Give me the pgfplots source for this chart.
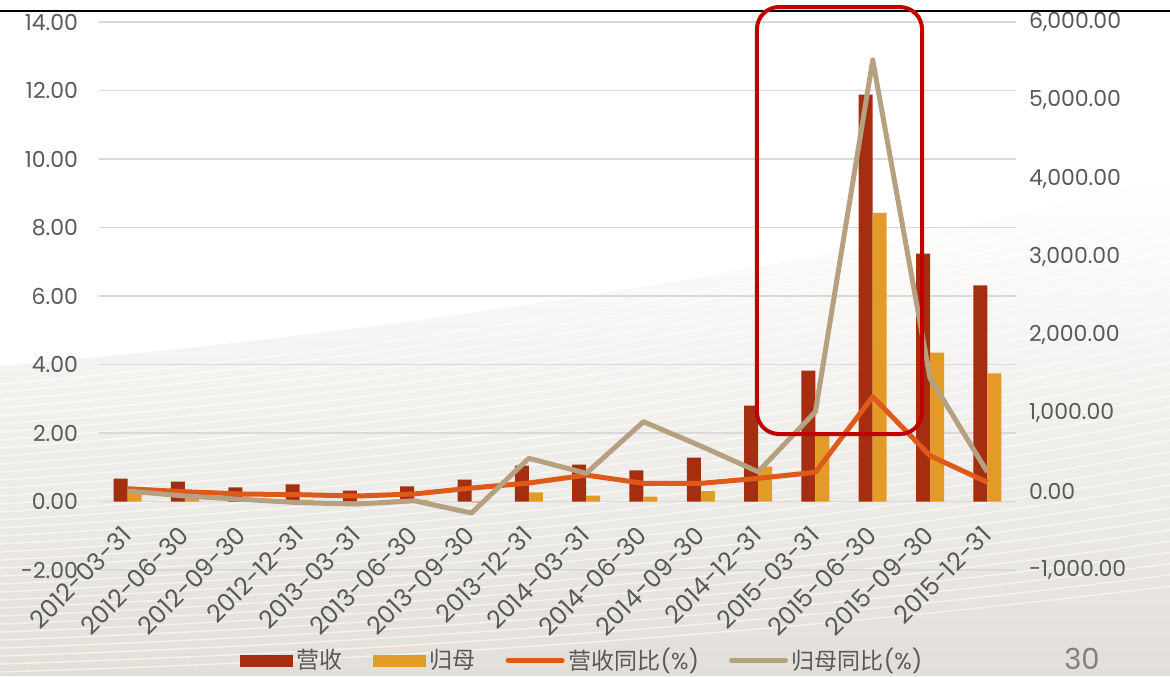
\documentclass[border=0pt]{standalone}
\usepackage{pgfplots}
\pgfplotsset{compat=1.18}
\usepackage{fontspec}
\setmainfont{Poppins}
\newfontfamily\cjk{Noto Sans CJK SC}

\definecolor{revc}{RGB}{166,46,16}
\definecolor{netc}{RGB}{227,155,40}
\definecolor{revyoy}{RGB}{221,90,25}
\definecolor{netyoy}{RGB}{181,160,128}
\definecolor{boxred}{RGB}{192,0,0}
\definecolor{txt}{RGB}{89,89,89}
\definecolor{gridc}{RGB}{217,217,217}
\definecolor{bgc}{RGB}{226,223,217}

\begin{document}
\begin{tikzpicture}[x=1pt,y=1pt]
\useasboundingbox (0,0) rectangle (585,338);
% slide background: white with a silver swoosh in the lower part
\fill[white] (0,0) rectangle (585,338);
\shade[top color=white, bottom color=bgc]
  (0,0) -- (0,155) .. controls (200,172) and (420,205) .. (585,250) -- (585,0) -- cycle;
\foreach \k in {0,...,36} {
  \draw[white, opacity=0.6, line width=0.7pt]
    (0,{2+4*\k}) .. controls (200,{8+4.3*\k}) and (400,{22+4.8*\k}) .. (585,{45+5.6*\k});
}
\draw[black, line width=1pt] (0,332.5) -- (585,332.5);

% bars: revenue and net profit attributable to parent (left axis)
\begin{axis}[
  at={(49.5pt,53pt)}, anchor=south west,
  scale only axis, width=458.5pt, height=274pt,
  xmin=-0.5, xmax=15.5, ymin=-2, ymax=14,
  ytick={-2,0,...,14},
  xtick={0,...,15},
  xticklabels={2012-03-31,2012-06-30,2012-09-30,2012-12-31,2013-03-31,2013-06-30,2013-09-30,2013-12-31,2014-03-31,2014-06-30,2014-09-30,2014-12-31,2015-03-31,2015-06-30,2015-09-30,2015-12-31},
  ybar=0pt, bar width=7pt,
  axis line style={draw=none},
  major tick length=0pt,
  ymajorgrids, grid style={gridc, line width=0.75pt},
  yticklabel style={font=\fontsize{11}{11}\selectfont, text=txt,
    /pgf/number format/fixed, /pgf/number format/fixed zerofill,
    /pgf/number format/precision=2, /pgf/number format/assume math mode=true},
  xticklabel style={font=\fontsize{12.3}{12.3}\selectfont, text=txt, rotate=45, anchor=east, inner sep=0.5pt},
  xticklabel shift=-20pt,
  yticklabel shift=7pt,
]
\addplot[fill=revc, draw=none] coordinates {
  (0,0.67) (1,0.58) (2,0.41) (3,0.50) (4,0.32) (5,0.44) (6,0.64) (7,1.05)
  (8,1.08) (9,0.91) (10,1.28) (11,2.80) (12,3.82) (13,11.88) (14,7.24) (15,6.31)};
\addplot[fill=netc, draw=none] coordinates {
  (0,0.30) (1,0.10) (2,0.05) (3,0.05) (4,0.02) (5,0.05) (6,-0.03) (7,0.27)
  (8,0.17) (9,0.14) (10,0.30) (11,1.02) (12,1.93) (13,8.43) (14,4.35) (15,3.74)};
\end{axis}

% year-on-year growth lines (right axis)
\begin{axis}[
  at={(49.5pt,53pt)}, anchor=south west,
  scale only axis, width=458.5pt, height=274pt,
  xmin=-0.5, xmax=15.5, ymin=-1000, ymax=6000,
  axis x line=none,
  axis y line*=right,
  y axis line style={draw=none},
  major tick length=0pt,
  ytick={-1000,0,...,6000},
  yticklabel style={font=\fontsize{11}{11}\selectfont, text=txt,
    /pgf/number format/fixed, /pgf/number format/fixed zerofill,
    /pgf/number format/precision=2, /pgf/number format/1000 sep={,},
    /pgf/number format/assume math mode=true},
  yticklabel shift=3pt,
  clip=false,
  legend columns=4,
  legend cell align=left,
  legend style={at={(0.528,-0.165)}, anchor=center, draw=none, fill=none,
    font=\fontsize{11.5}{11.5}\selectfont, text=txt, inner sep=0pt,
    /tikz/every even column/.append style={column sep=13pt}},
]
\addlegendimage{legend image code/.code={\fill[revc] (0pt,-2.75pt) rectangle (26pt,2.75pt);}}
\addlegendentry{\cjk 营收}
\addlegendimage{legend image code/.code={\fill[netc] (0pt,-2.75pt) rectangle (26pt,2.75pt);}}
\addlegendentry{\cjk 归母}
\addplot[revyoy, line width=2.5pt, line join=round,
  legend image code/.code={\draw[revyoy, line width=2.5pt, line cap=round] (0pt,0pt) -- (27pt,0pt);}]
  coordinates {
  (0,38) (1,0) (2,-29) (3,-38) (4,-55) (5,-29) (6,47) (7,111)
  (8,213) (9,107) (10,107) (11,171) (12,248) (13,1213) (14,460) (15,120)};
\addlegendentry{{\cjk 营收同比}(\%)}
\addplot[netyoy, line width=2.5pt, line join=round,
  legend image code/.code={\draw[netyoy, line width=2.5pt, line cap=round] (0pt,0pt) -- (27pt,0pt);}]
  coordinates {
  (0,9) (1,-55) (2,-97) (3,-140) (4,-157) (5,-115) (6,-272) (7,427)
  (8,235) (9,894) (10,584) (11,255) (12,1022) (13,5514) (14,1452) (15,252)};
\addlegendentry{{\cjk 归母同比}(\%)}
% highlight frame around the 2015 peak
\draw[boxred, line width=2pt, rounded corners=11pt]
  (axis cs:10.98,737) rectangle (axis cs:13.86,6191);
\end{axis}

\node[text=black!50, font=\fontsize{14.5}{14.5}\selectfont, inner sep=0pt] at (541,8.5) {30};
\end{tikzpicture}
\end{document}
